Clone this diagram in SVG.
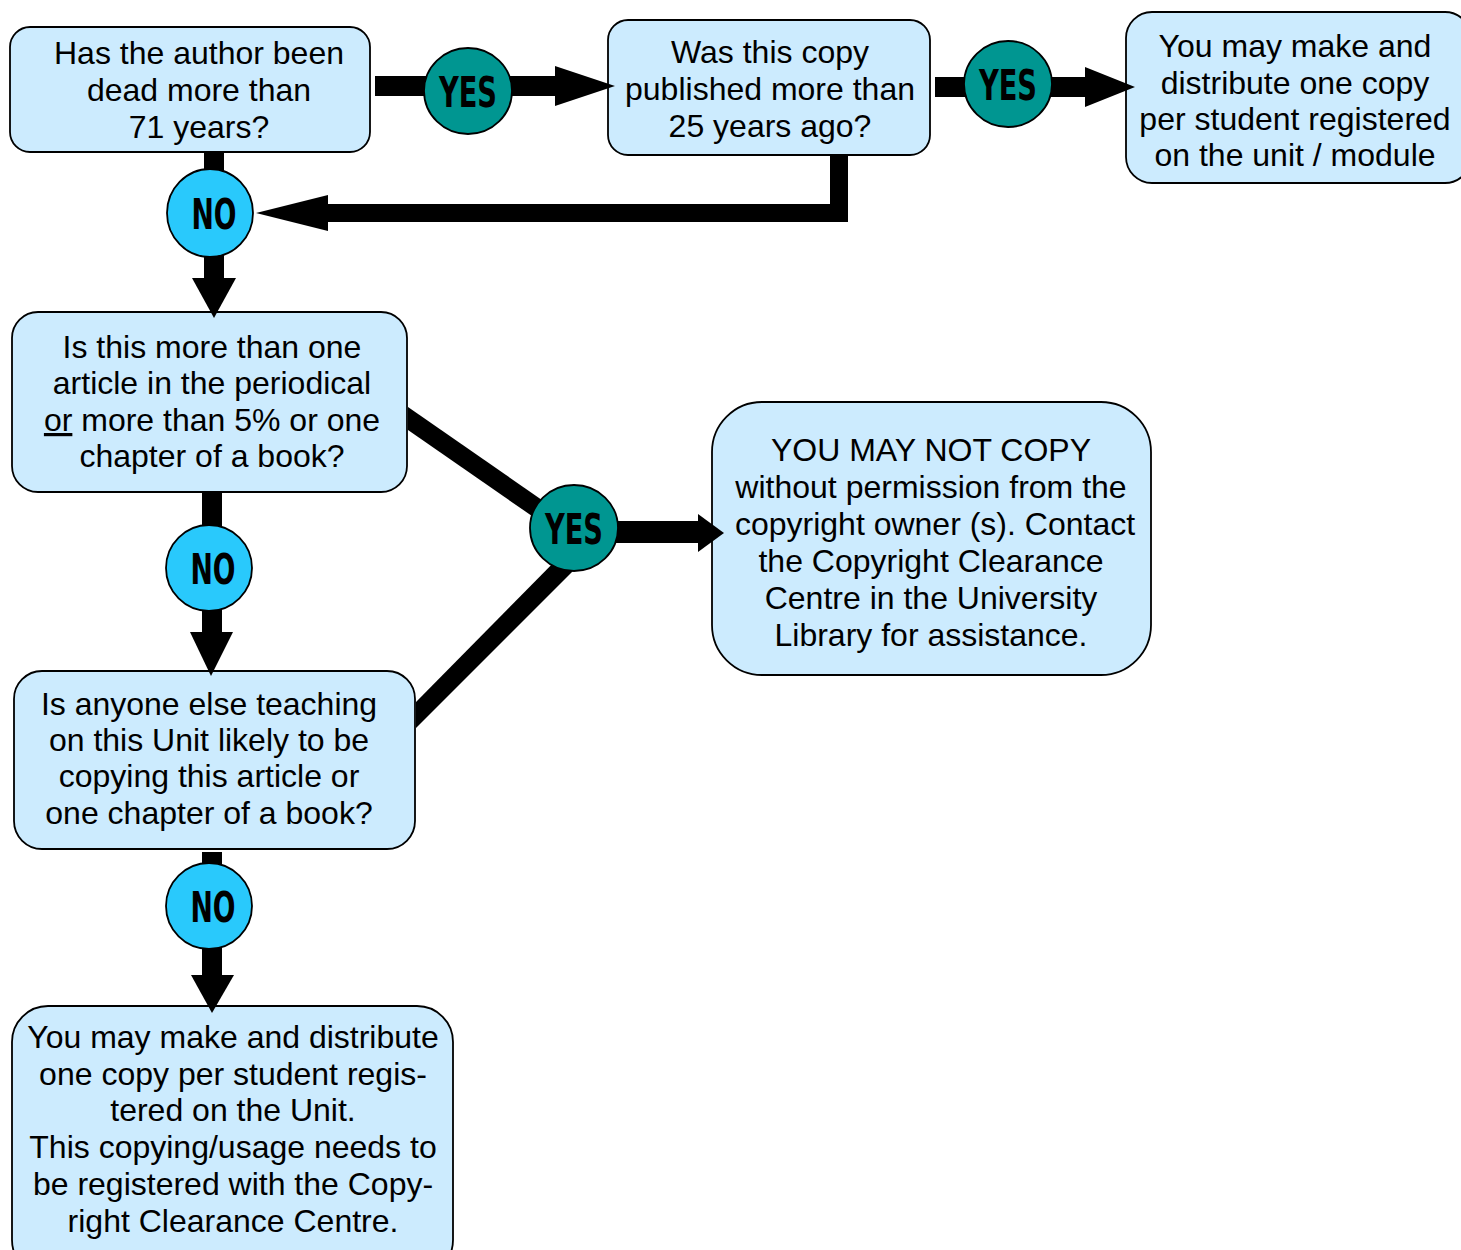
<svg xmlns="http://www.w3.org/2000/svg" width="1461" height="1250" viewBox="0 0 1461 1250">
<style>
.box{fill:#CCEBFE;stroke:#000;stroke-width:1.8}
.t{font-family:"Liberation Sans",Arial,sans-serif;font-size:32px;fill:#000;text-anchor:middle}
.yes{fill:#009691;stroke:#000;stroke-width:1.8}
.no{fill:#29C9FC;stroke:#000;stroke-width:1.8}
.lbl{font-family:"DejaVu Sans Condensed","DejaVu Sans",sans-serif;font-weight:bold;font-size:42px;fill:#000;text-anchor:middle}
.bar{stroke:#000;fill:none}
.head{fill:#000}
</style>
<rect width="1461" height="1250" fill="#fff"/>
<g id="node1">
  <rect class="box" x="10" y="27" width="360" height="125" rx="20"/>
  <text class="t"><tspan x="199" y="64">Has the author been</tspan><tspan x="199" y="101">dead more than</tspan><tspan x="199" y="138">71 years?</tspan></text>
</g>
<g id="node2">
  <rect class="box" x="608" y="20" width="322" height="135" rx="20"/>
  <text class="t"><tspan x="770" y="63">Was this copy</tspan><tspan x="770" y="100">published more than</tspan><tspan x="770" y="137">25 years ago?</tspan></text>
</g>
<g id="node3">
  <rect class="box" x="1126" y="12" width="345" height="171" rx="26"/>
  <text class="t"><tspan x="1295" y="57">You may make and</tspan><tspan x="1295" y="94">distribute one copy</tspan><tspan x="1295" y="130">per student registered</tspan><tspan x="1295" y="166">on the unit / module</tspan></text>
</g>
<g id="node4">
  <rect class="box" x="12" y="312" width="395" height="180" rx="26"/>
  <text class="t"><tspan x="212" y="358">Is this more than one</tspan><tspan x="212" y="394">article in the periodical</tspan><tspan x="212" y="431"><tspan text-decoration="underline">or</tspan> more than 5% or one</tspan><tspan x="212" y="467">chapter of a book?</tspan></text>
</g>
<g id="node5">
  <rect class="box" x="712" y="402" width="439" height="273" rx="50"/>
  <text class="t"><tspan x="931" y="461">YOU MAY NOT COPY</tspan><tspan x="931" y="498">without permission from the</tspan><tspan x="935" y="535">copyright owner (s). Contact</tspan><tspan x="931" y="572">the Copyright Clearance</tspan><tspan x="931" y="609">Centre in the University</tspan><tspan x="931" y="646">Library for assistance.</tspan></text>
</g>
<g id="node6">
  <rect class="box" x="14" y="671" width="401" height="178" rx="28"/>
  <text class="t"><tspan x="209" y="715">Is anyone else teaching</tspan><tspan x="209" y="751">on this Unit likely to be</tspan><tspan x="209" y="787">copying this article or</tspan><tspan x="209" y="824">one chapter of a book?</tspan></text>
</g>
<g id="node7">
  <rect class="box" x="12" y="1006" width="441" height="270" rx="36"/>
  <text class="t"><tspan x="233" y="1048">You may make and distribute</tspan><tspan x="233" y="1085">one copy per student regis-</tspan><tspan x="233" y="1121">tered on the Unit.</tspan><tspan x="233" y="1158">This copying/usage needs to</tspan><tspan x="233" y="1195">be registered with the Copy-</tspan><tspan x="233" y="1232">right Clearance Centre.</tspan></text>
</g>
<g id="connectors">
  <line class="bar" x1="375" y1="86" x2="558" y2="86" stroke-width="20"/>
  <polygon class="head" points="555,66 615,86 555,106"/>
  <line class="bar" x1="935" y1="87" x2="1088" y2="87" stroke-width="20"/>
  <polygon class="head" points="1085,67 1135,87 1085,107"/>
  <polyline class="bar" points="839,156 839,213 324,213" stroke-width="18"/>
  <polygon class="head" points="328,195 256,213 328,231"/>
  <line class="bar" x1="214" y1="153" x2="214" y2="282" stroke-width="20"/>
  <polygon class="head" points="192,278 236,278 214,318"/>
  <line class="bar" x1="212" y1="493" x2="212" y2="636" stroke-width="20"/>
  <polygon class="head" points="190,632 233,632 211,676"/>
  <line class="bar" x1="212" y1="852" x2="212" y2="979" stroke-width="20"/>
  <polygon class="head" points="191,975 234,975 212,1013"/>
  <polygon class="head" points="408,407 565,516 555,532 408,430"/>
  <polygon class="head" points="416,728 583,561 569,547 416,702"/>
  <line class="bar" x1="600" y1="532" x2="700" y2="532" stroke-width="22"/>
  <polygon class="head" points="698,514 724,533 698,552"/>
</g>
<g id="yes1">
  <ellipse class="yes" cx="468" cy="91" rx="44" ry="43"/>
  <text class="lbl" x="468" y="107" textLength="58" lengthAdjust="spacingAndGlyphs">YES</text>
</g>
<g id="yes2">
  <ellipse class="yes" cx="1008" cy="84" rx="44" ry="43"/>
  <text class="lbl" x="1008" y="100" textLength="58" lengthAdjust="spacingAndGlyphs">YES</text>
</g>
<g id="yes3">
  <ellipse class="yes" cx="574" cy="528" rx="44" ry="43"/>
  <text class="lbl" x="574" y="544" textLength="58" lengthAdjust="spacingAndGlyphs">YES</text>
</g>
<g id="no1">
  <ellipse class="no" cx="210" cy="213" rx="43" ry="44"/>
  <text class="lbl" x="214" y="229" textLength="45" lengthAdjust="spacingAndGlyphs">NO</text>
</g>
<g id="no2">
  <ellipse class="no" cx="209" cy="568" rx="43" ry="43"/>
  <text class="lbl" x="213" y="584" textLength="45" lengthAdjust="spacingAndGlyphs">NO</text>
</g>
<g id="no3">
  <ellipse class="no" cx="209" cy="906" rx="43" ry="43"/>
  <text class="lbl" x="213" y="922" textLength="45" lengthAdjust="spacingAndGlyphs">NO</text>
</g>
</svg>
